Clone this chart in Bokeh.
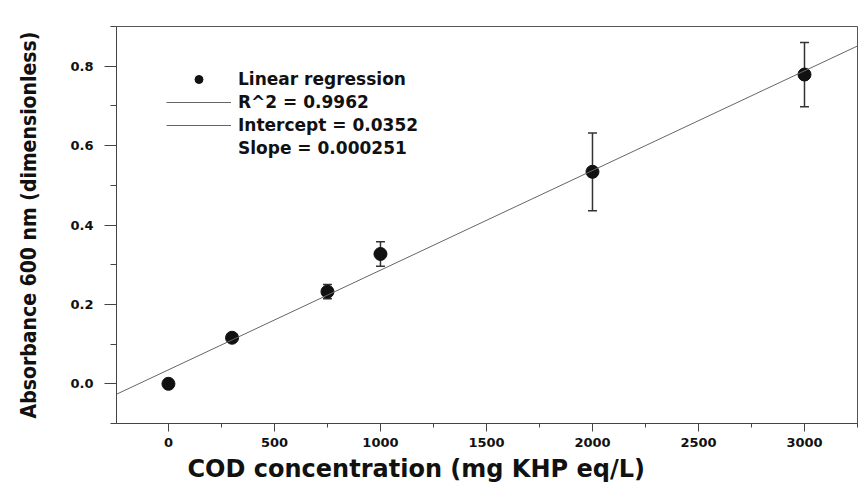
from bokeh.plotting import figure
from bokeh.models import (ColumnDataSource, Whisker, TeeHead, Slope, Legend, LegendItem,
                          SingleIntervalTicker, NumeralTickFormatter, Range1d, Title)
from bokeh.embed import file_html
from bokeh.resources import INLINE

# data
cod = [0, 300, 750, 1000, 2000, 3000]
absorbance = [0.0, 0.116, 0.232, 0.327, 0.534, 0.779]
err = [0.0, 0.0, 0.018, 0.031, 0.098, 0.081]
slope = 0.000251
intercept = 0.0352
r2 = 0.9962
x_ticks_interval = 500
y_ticks_interval = 0.2

lower = [a - e for a, e in zip(absorbance, err)]
upper = [a + e for a, e in zip(absorbance, err)]
src = ColumnDataSource(dict(x=cod, y=absorbance, lower=lower, upper=upper))

p = figure(width=858, height=485, output_backend="svg", toolbar_location=None,
           x_range=Range1d(-245, 3250), y_range=Range1d(-0.1, 0.9),
           min_border_left=116, min_border_top=26, min_border_right=1, min_border_bottom=0)
p.grid.visible = False
p.outline_line_color = "#555555"
p.outline_line_width = 1
p.background_fill_color = "white"
p.border_fill_color = "white"

# regression line
p.add_layout(Slope(gradient=slope, y_intercept=intercept, line_color="#666666", line_width=1))

# error bars
wh = Whisker(source=src, base="x", lower="lower", upper="upper", line_color="#333333", line_width=1.5,
             upper_head=TeeHead(size=9, line_color="#333333", line_width=1.5),
             lower_head=TeeHead(size=9, line_color="#333333", line_width=1.5))
p.add_layout(wh)

pts = p.scatter("x", "y", source=src, size=13, color="#111111")
nan = float("nan")
line_dummy = p.line(x=[nan], y=[nan], line_color="#666666", line_width=1)
none_dummy = p.line(x=[nan], y=[nan], line_alpha=0)

legend = Legend(items=[
    LegendItem(label="Linear regression", renderers=[pts]),
    LegendItem(label="R^2 = %.4f" % r2, renderers=[line_dummy]),
    LegendItem(label="Intercept = %.4f" % intercept, renderers=[line_dummy]),
    LegendItem(label="Slope = %.6f" % slope, renderers=[none_dummy]),
], location=(50, 264), padding=0, margin=0, spacing=0, glyph_width=65, glyph_height=20,
   label_height=23, label_standoff=7, border_line_alpha=0, background_fill_alpha=0,
   label_text_font="DejaVu Sans", label_text_font_style="bold", label_text_font_size="17px",
   label_text_color="#111111")
p.add_layout(legend)

# axes
p.xaxis.ticker = SingleIntervalTicker(interval=x_ticks_interval, num_minor_ticks=2)
p.yaxis.ticker = SingleIntervalTicker(interval=y_ticks_interval, num_minor_ticks=2)
p.yaxis.formatter = NumeralTickFormatter(format="0.0")
for ax in (p.xaxis, p.yaxis):
    ax.axis_line_color = "#444444"
    ax.major_tick_line_color = "#444444"
    ax.minor_tick_line_color = "#444444"
    ax.major_tick_in = 0
    ax.minor_tick_in = 0
    ax.major_label_text_font = "DejaVu Sans"
    ax.major_label_text_font_style = "bold"
    ax.major_label_text_font_size = "13px"
    ax.major_label_text_color = "#111111"
    ax.axis_label_text_color = "#111111"
p.xaxis.major_tick_out = 8
p.xaxis.minor_tick_out = 4
p.yaxis.major_tick_out = 12
p.yaxis.minor_tick_out = 6
p.xaxis.major_label_standoff = 6
p.yaxis.major_label_standoff = 11

xtitle = Title(text="COD concentration (mg KHP eq/L)", align="left", offset=71,
               text_font="DejaVu Sans", text_font_style="bold", text_font_size="24px",
               text_color="#111111", standoff=6)
p.add_layout(xtitle, "below")

p.yaxis.axis_label = "Absorbance 600 nm (dimensionless)"
p.yaxis.axis_label_text_font = "DejaVu Sans Condensed"
p.yaxis.axis_label_text_font_style = "bold"
p.yaxis.axis_label_text_font_size = "21px"
p.yaxis.axis_label_standoff = 26

open("out.html", "w").write(file_html(p, INLINE))
